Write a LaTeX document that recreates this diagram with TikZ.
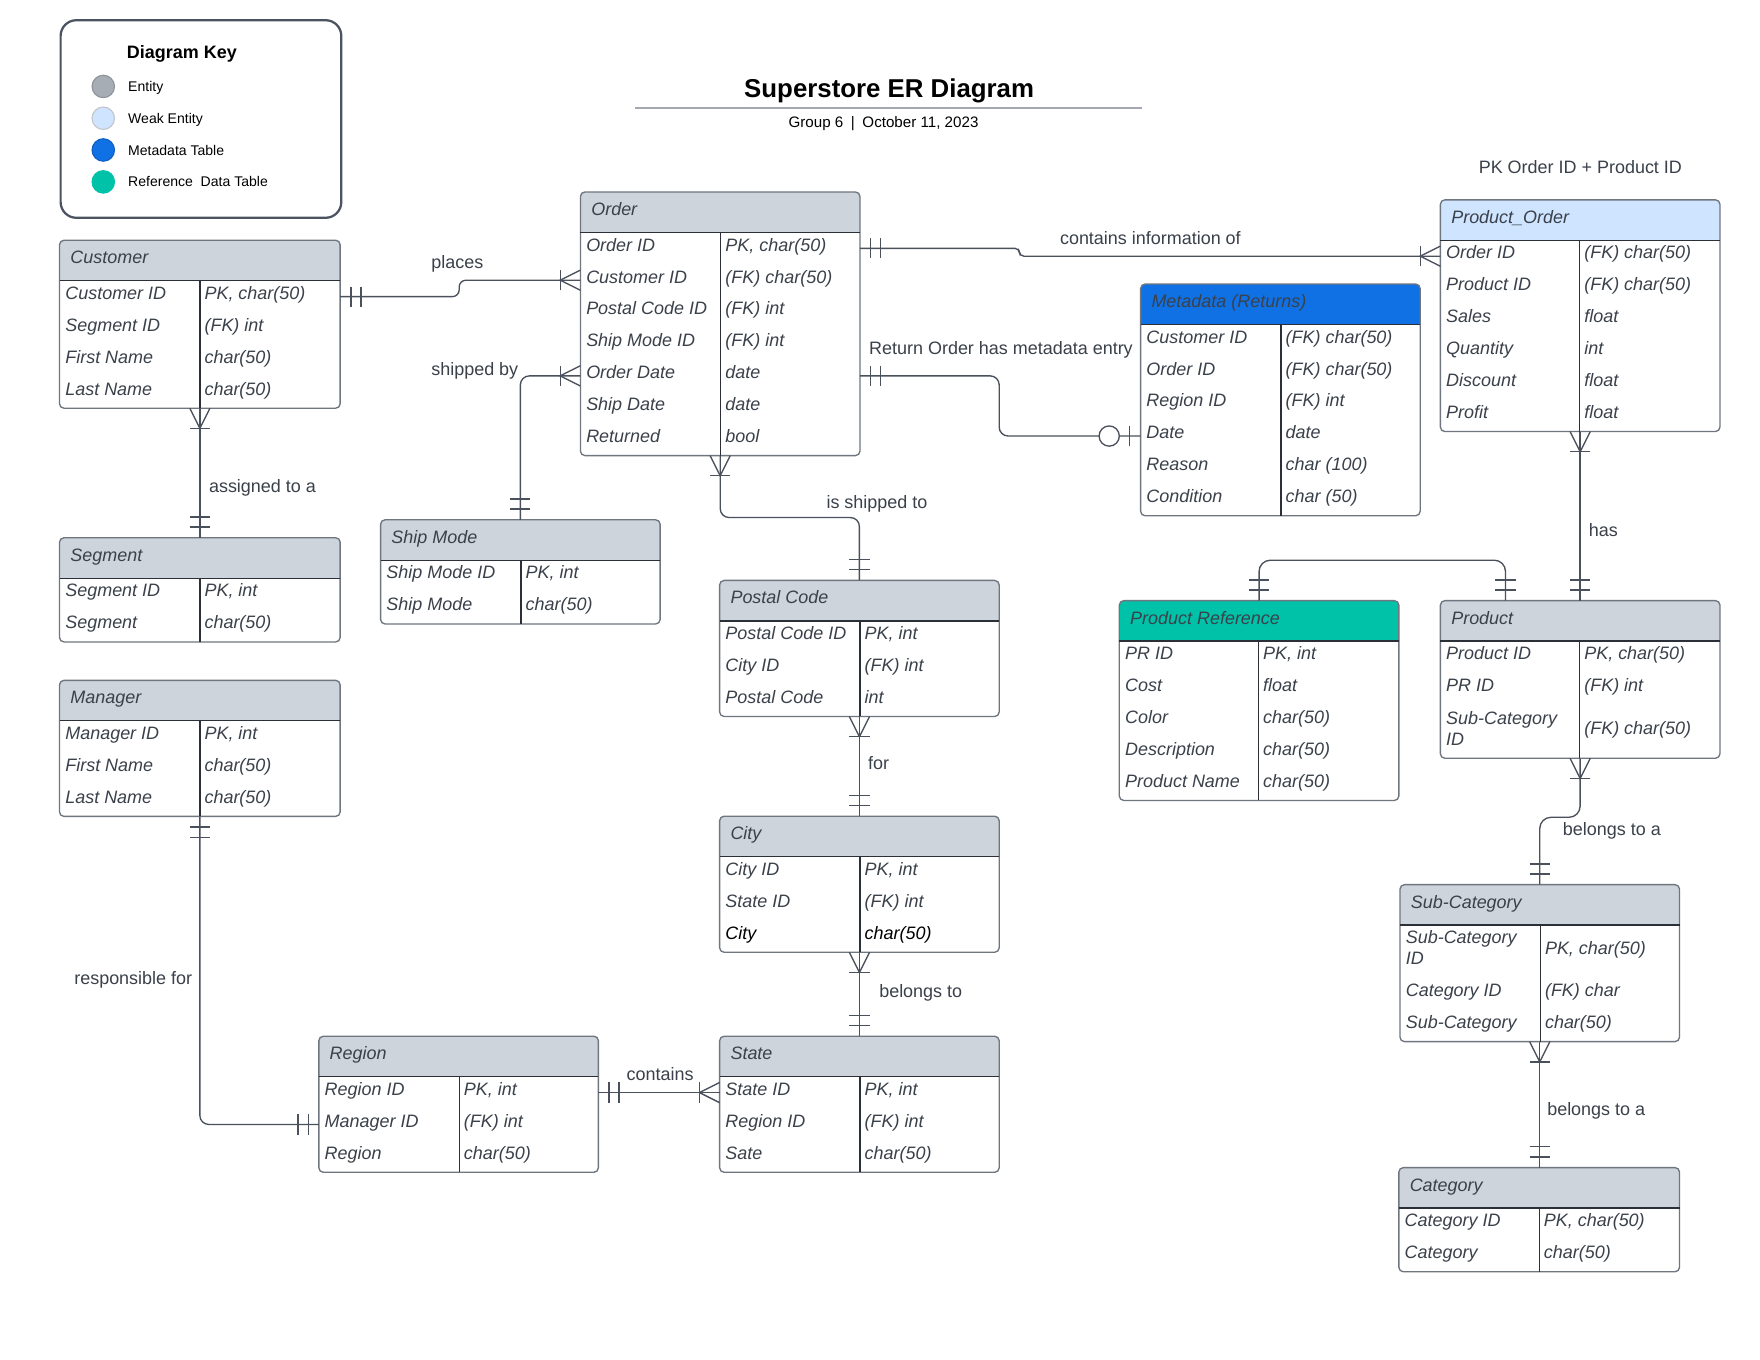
\documentclass[tikz,border=0pt]{standalone}
\usepackage{fontspec}
\setmainfont{Liberation Sans}
\usetikzlibrary{calc}
\definecolor{txt}{HTML}{3A414A}
\definecolor{hdrgrey}{HTML}{CED4DB}
\definecolor{weakblue}{HTML}{CFE4FF}
\definecolor{metablue}{HTML}{1071E5}
\definecolor{refteal}{HTML}{00C2A8}
\definecolor{bord}{HTML}{6F7680}
\definecolor{innerc}{HTML}{2B3038}
\definecolor{lnc}{HTML}{4A515C}
\definecolor{keygrey}{HTML}{A7ADB5}
\definecolor{keyb}{HTML}{4B5360}
\definecolor{ruleg}{HTML}{A3A8B1}

\tikzset{
 tblbox/.style={draw=bord, line width=1.2pt, rounded corners=4pt, outer sep=0pt, inner sep=0pt},
 innerln/.style={draw=innerc, line width=1.2pt},
 attr/.style={font=\fontsize{16}{19}\selectfont\itshape, text=txt, inner sep=0pt},
 hdr/.style={font=\fontsize{16}{19}\selectfont\itshape, text=txt, inner sep=0pt, anchor=base west},
 lbl/.style={font=\fontsize{16}{19}\selectfont, text=txt, inner sep=0pt, anchor=base west},
 keylbl/.style={font=\fontsize{12.5}{15}\selectfont, text=black, inner sep=0pt, anchor=base west},
 keydot/.style={circle, minimum size=20pt, inner sep=0pt, line width=1pt},
 conn/.style={draw=lnc, line width=1.2pt},
 crow/.pic={\draw[conn] (0,-9) -- (18,0) -- (0,9); \draw[conn] (18,-9) -- (18,9);},
 onlyone/.pic={\draw[conn] (9.5,-9) -- (9.5,9); \draw[conn] (18.5,-9) -- (18.5,9);},
 zeroone/.pic={\draw[conn] (10,-9) -- (10,9); \draw[conn, fill=white] (28,0) circle[radius=9pt];}
}

\newcommand\ertable[8]{%
  \def\curx{#2}\def\curtop{#3}\def\curd{#6}%
  \begin{scope}
    \clip[rounded corners=4pt] (#2,#3) rectangle (#4,#5);
    \fill[#7] (#2,#3) rectangle (#4,#3+36);
  \end{scope}
  \node[tblbox, anchor=north west, minimum width=#4pt-#2pt, minimum height=#5pt-#3pt] (#1) at (#2,#3) {};
  \draw[innerln] (#2,#3+36) -- (#4,#3+36);
  \draw[innerln] (#6,#3+36) -- (#6,#5);
  \node[hdr] (#1-title) at (#2+9.5,#3+21) {#8};
}
\newcommand\erow[4]{%
  \coordinate (#1-r#2) at (\curx, \curtop+36+#2*28.4-14.2);
  \node[attr, anchor=base west] (#1-k#2) at (\curx+5, \curtop+36+#2*28.4-11.7) {#3};
  \node[attr, anchor=base west] (#1-v#2) at (\curd+4, \curtop+36+#2*28.4-11.7) {#4};
}
\newcommand\erowy[5]{%
  \coordinate (#1-r#2) at (\curx,#3);
  \node[attr, anchor=base west] (#1-k#2) at (\curx+5,#3+2.5) {#4};
  \node[attr, anchor=base west] (#1-v#2) at (\curd+4,#3+2.5) {#5};
}
\newcommand\erowtwo[5]{%
  \coordinate (#1-r#2) at (\curx,#3);
  \node[attr, anchor=north west, align=left] (#1-k#2) at (\curx+5,#3-18.8) {#4};
  \node[attr, anchor=base west] (#1-v#2) at (\curd+4,#3+2.5) {#5};
}

\begin{document}
\begin{tikzpicture}[x=1pt, y=-1pt]
\useasboundingbox[fill=white] (0,0) rectangle (1567.7,1211.4);

% ---------- key ----------
\node[draw=keyb, line width=2pt, rounded corners=14pt, minimum width=250pt, minimum height=176pt, anchor=north west] (keybox) at (53,17) {};
\node[font=\fontsize{16}{19}\selectfont\bfseries, inner sep=0pt, anchor=base] (keytitle) at (162,51.8) {Diagram Key};
\node[keydot, fill=keygrey, draw=keygrey!85!black] (key1) at (92,77) {};
\node[keydot, fill=weakblue, draw=keygrey!70!white] (key2) at (92,105.3) {};
\node[keydot, fill=metablue, draw=metablue!85!black] (key3) at (92,133.6) {};
\node[keydot, fill=refteal, draw=refteal] (key4) at (92,162) {};
\node[keylbl] (keyl1) at (114,81.5) {Entity};
\node[keylbl] (keyl2) at (114,109.8) {Weak Entity};
\node[keylbl] (keyl3) at (114,138.1) {Metadata Table};
\node[keylbl] (keyl4) at (114,166.5) {Reference\ \ Data Table};

% ---------- title ----------
\node[font=\fontsize{23}{27}\selectfont\bfseries, inner sep=0pt, anchor=base] (title) at (792,87) {Superstore ER Diagram};
\draw[ruleg, line width=1.5pt] (566,96) -- (1017,96);
\node[font=\fontsize{13.5}{16}\selectfont, inner sep=0pt, anchor=base] (subtitle) at (787,114) {Group 6\enspace|\enspace{}October 11, 2023};
\node[lbl] (pknote) at (1317,154.7) {PK Order ID + Product ID};

% ---------- tables ----------
\ertable{customer}{53}{214}{303}{363.6}{178}{hdrgrey}{Customer}
\erow{customer}{1}{Customer ID}{PK, char(50)}
\erow{customer}{2}{Segment ID}{(FK) int}
\erow{customer}{3}{First Name}{char(50)}
\erow{customer}{4}{Last Name}{char(50)}

\ertable{segment}{53}{479}{303}{571.8}{178}{hdrgrey}{Segment}
\erow{segment}{1}{Segment ID}{PK, int}
\erow{segment}{2}{Segment}{char(50)}

\ertable{manager}{53}{606}{303}{727.2}{178}{hdrgrey}{Manager}
\erow{manager}{1}{Manager ID}{PK, int}
\erow{manager}{2}{First Name}{char(50)}
\erow{manager}{3}{Last Name}{char(50)}

\ertable{order}{517}{171}{766}{405.8}{642}{hdrgrey}{Order}
\erow{order}{1}{Order ID}{PK, char(50)}
\erow{order}{2}{Customer ID}{(FK) char(50)}
\erow{order}{3}{Postal Code ID}{(FK) int}
\erow{order}{4}{Ship Mode ID}{(FK) int}
\erow{order}{5}{Order Date}{date}
\erow{order}{6}{Ship Date}{date}
\erow{order}{7}{Returned}{bool}

\ertable{shipmode}{339}{463}{588}{555.8}{464}{hdrgrey}{Ship Mode}
\erow{shipmode}{1}{Ship Mode ID}{PK, int}
\erow{shipmode}{2}{Ship Mode}{char(50)}

\ertable{postal}{641}{517}{890}{638.2}{766}{hdrgrey}{Postal Code}
\erow{postal}{1}{Postal Code ID}{PK, int}
\erow{postal}{2}{City ID}{(FK) int}
\erow{postal}{3}{Postal Code}{int}

\ertable{city}{641}{727}{890}{848.2}{766}{hdrgrey}{City}
\erow{city}{1}{City ID}{PK, int}
\erow{city}{2}{State ID}{(FK) int}
\erow{city}{3}{\color{black}City}{\color{black}char(50)}

\ertable{state}{641}{923}{890}{1044.2}{766}{hdrgrey}{State}
\erow{state}{1}{State ID}{PK, int}
\erow{state}{2}{Region ID}{(FK) int}
\erow{state}{3}{Sate}{char(50)}

\ertable{region}{284}{923}{533}{1044.2}{409}{hdrgrey}{Region}
\erow{region}{1}{Region ID}{PK, int}
\erow{region}{2}{Manager ID}{(FK) int}
\erow{region}{3}{Region}{char(50)}

\ertable{metadata}{1016}{253}{1265}{459.4}{1141}{metablue}{Metadata (Returns)}
\erow{metadata}{1}{Customer ID}{(FK) char(50)}
\erow{metadata}{2}{Order ID}{(FK) char(50)}
\erow{metadata}{3}{Region ID}{(FK) int}
\erow{metadata}{4}{Date}{date}
\erow{metadata}{5}{Reason}{char (100)}
\erow{metadata}{6}{Condition}{char (50)}

\ertable{porder}{1283}{178}{1532}{384.4}{1407}{weakblue}{Product\_Order}
\erow{porder}{1}{Order ID}{(FK) char(50)}
\erow{porder}{2}{Product ID}{(FK) char(50)}
\erow{porder}{3}{Sales}{float}
\erow{porder}{4}{Quantity}{int}
\erow{porder}{5}{Discount}{float}
\erow{porder}{6}{Profit}{float}

\ertable{pref}{997}{535}{1246}{713}{1121}{refteal}{Product Reference}
\erow{pref}{1}{PR ID}{PK, int}
\erow{pref}{2}{Cost}{float}
\erow{pref}{3}{Color}{char(50)}
\erow{pref}{4}{Description}{char(50)}
\erow{pref}{5}{Product Name}{char(50)}

\ertable{product}{1283}{535}{1532}{675.4}{1407}{hdrgrey}{Product}
\erow{product}{1}{Product ID}{PK, char(50)}
\erow{product}{2}{PR ID}{(FK) int}
\erowtwo{product}{3}{651.9}{Sub-Category\\ID}{(FK) char(50)}

\ertable{subcat}{1247}{788}{1496}{927.8}{1372}{hdrgrey}{Sub-Category}
\erowtwo{subcat}{1}{847.5}{Sub-Category\\ID}{PK, char(50)}
\erowy{subcat}{2}{885.2}{Category ID}{(FK) char}
\erowy{subcat}{3}{913.6}{Sub-Category}{char(50)}

\ertable{category}{1246}{1040}{1496}{1132.8}{1371}{hdrgrey}{Category}
\erow{category}{1}{Category ID}{PK, char(50)}
\erow{category}{2}{Category}{char(50)}

% ---------- bend coordinates ----------
\coordinate (bx1) at (409,0);
\coordinate (by6) at (0,461);
\coordinate (bx9) at (908,0);
\coordinate (bx10) at (890,0);
\coordinate (by12) at (0,499);
\coordinate (px12) at ([xshift=58pt]product.north west);
\coordinate (by13) at (0,728);

% ---------- connectors ----------
% places
\draw[conn, rounded corners=6pt] (customer-r1 -| customer.east) -- (customer-r1 -| bx1) -- (order-r2 -| bx1) -- (order-r2 -| order.west);
\path (customer-r1 -| customer.east) pic{onlyone};
\path (order-r2 -| order.west) pic[rotate=180]{crow};
\node[lbl] (l-places) at (384,239.5) {places};

% shipped by
\draw[conn, rounded corners=8pt] (order-r5 -| order.west) -| (shipmode.north);
\path (order-r5 -| order.west) pic[rotate=180]{crow};
\path (shipmode.north) pic[rotate=90]{onlyone};
\node[lbl] (l-shipped) at (384,334.5) {shipped by};

% assigned to a
\draw[conn] (customer.south) -- (segment.north);
\path (customer.south) pic[rotate=-90]{crow};
\path (segment.north) pic[rotate=90]{onlyone};
\node[lbl] (l-assigned) at (186,438.5) {assigned to a};

% responsible for
\draw[conn, rounded corners=8pt] (manager.south) |- (region-r2 -| region.west);
\path (manager.south) pic[rotate=-90]{onlyone};
\path (region-r2 -| region.west) pic[rotate=180]{onlyone};
\node[lbl] (l-resp) at (66,876.5) {responsible for};

% contains
\draw[conn] (region-r1 -| region.east) -- (state-r1 -| state.west);
\path (region-r1 -| region.east) pic{onlyone};
\path (state-r1 -| state.west) pic[rotate=180]{crow};
\node[lbl] (l-contains) at (558,962.5) {contains};

% is shipped to
\draw[conn, rounded corners=8pt] (order.south) -- (order.south |- by6) -- (postal.north |- by6) -- (postal.north);
\path (order.south) pic[rotate=-90]{crow};
\path (postal.north) pic[rotate=90]{onlyone};
\node[lbl] (l-isshipped) at (736,452.5) {is shipped to};

% for
\draw[conn] (postal.south) -- (city.north);
\path (postal.south) pic[rotate=-90]{crow};
\path (city.north) pic[rotate=90]{onlyone};
\node[lbl] (l-for) at (773,685.5) {for};

% belongs to
\draw[conn] (city.south) -- (state.north);
\path (city.south) pic[rotate=-90]{crow};
\path (state.north) pic[rotate=90]{onlyone};
\node[lbl] (l-belongs) at (783,888.5) {belongs to};

% contains information of
\draw[conn, rounded corners=4pt] (order-r1 -| order.east) -- (order-r1 -| bx9) -- (porder-r1 -| bx9) -- (porder-r1 -| porder.west);
\path (order-r1 -| order.east) pic{onlyone};
\path (porder-r1 -| porder.west) pic[rotate=180]{crow};
\node[lbl] (l-info) at (944,217.5) {contains information of};

% Return Order has metadata entry
\draw[conn, rounded corners=8pt] (order-r5 -| order.east) -- (order-r5 -| bx10) -- (metadata-r4 -| bx10) -- (metadata-r4 -| metadata.west);
\path (order-r5 -| order.east) pic{onlyone};
\path (metadata-r4 -| metadata.west) pic[rotate=180]{zeroone};
\node[lbl] (l-return) at (774,315.5) {Return Order has metadata entry};

% has
\draw[conn] (porder.south) -- (product.north);
\path (porder.south) pic[rotate=-90]{crow};
\path (product.north) pic[rotate=90]{onlyone};
\node[lbl] (l-has) at (1415,477.5) {has};

% product reference -- product
\draw[conn, rounded corners=10pt] (pref.north) -- (pref.north |- by12) -- (px12 |- by12) -- (px12);
\path (pref.north) pic[rotate=90]{onlyone};
\path (px12) pic[rotate=90]{onlyone};

% product -- sub-category
\draw[conn, rounded corners=10pt] (product.south) -- (product.south |- by13) -- (subcat.north |- by13) -- (subcat.north);
\path (product.south) pic[rotate=-90]{crow};
\path (subcat.north) pic[rotate=90]{onlyone};
\node[lbl] (l-belongsa1) at (1392,744.5) {belongs to a};

% sub-category -- category
\draw[conn] (subcat.south) -- (subcat.south |- category.north);
\path (subcat.south) pic[rotate=-90]{crow};
\path (subcat.south |- category.north) pic[rotate=90]{onlyone};
\node[lbl] (l-belongsa2) at (1378,993.5) {belongs to a};
\end{tikzpicture}
\end{document}
